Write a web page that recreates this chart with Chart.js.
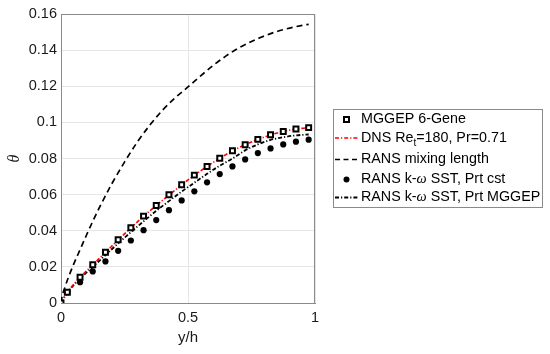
<!DOCTYPE html>
<html>
<head>
<meta charset="utf-8">
<script src="https://cdn.jsdelivr.net/npm/chart.js@4/dist/chart.umd.min.js"></script>
<style>
  html, body { margin: 0; padding: 0; background: #fff; }
  #wrap { width: 550px; height: 354px; position: relative; }
</style>
</head>
<body>
<div id="wrap"><canvas id="c" width="550" height="354"></canvas></div>
<script>
// ---- data ----
const xMarks = [0, 0.025, 0.075, 0.125, 0.175, 0.225, 0.275, 0.325, 0.375, 0.425, 0.475,
                0.525, 0.575, 0.625, 0.675, 0.725, 0.775, 0.825, 0.875, 0.925, 0.975];
const mggepGene = [0, 0.0060, 0.0143, 0.0212, 0.0281, 0.0350, 0.0417, 0.0481, 0.0540, 0.0599, 0.0655,
                   0.0708, 0.0756, 0.0801, 0.0843, 0.0876, 0.0906, 0.0932, 0.0950, 0.0963, 0.0971];
const xDns = [0, 0.025, 0.075, 0.125, 0.175, 0.225, 0.275, 0.325, 0.375, 0.425, 0.475,
              0.525, 0.575, 0.625, 0.675, 0.725, 0.775, 0.825, 0.875, 0.925, 0.975, 0.985];
const dns = [0, 0.0059, 0.0142, 0.0211, 0.0280, 0.0349, 0.0416, 0.0480, 0.0540, 0.0598, 0.0654,
             0.0707, 0.0756, 0.0801, 0.0842, 0.0876, 0.0905, 0.0930, 0.0950, 0.0963, 0.0971, 0.0973];
const xMix = [0, 0.005, 0.015, 0.03, 0.05, 0.075, 0.1, 0.125, 0.15, 0.2, 0.25, 0.3, 0.35, 0.4,
              0.45, 0.5, 0.55, 0.6, 0.65, 0.7, 0.75, 0.8, 0.85, 0.9, 0.95, 0.975];
const mixingLength = [0, 0.0040, 0.0085, 0.0145, 0.0215, 0.0295, 0.0375, 0.0452, 0.0525, 0.0660, 0.0780,
                      0.0890, 0.0985, 0.1068, 0.1137, 0.1196, 0.1258, 0.1316, 0.1368, 0.1412, 0.1448,
                      0.1478, 0.1503, 0.1522, 0.1537, 0.1543];
const komegaCst = [0, 0.0060, 0.0115, 0.0175, 0.0230, 0.0289, 0.0346, 0.0403, 0.0459, 0.0514, 0.0568,
                   0.0618, 0.0668, 0.0714, 0.0756, 0.0795, 0.0830, 0.0856, 0.0878, 0.0893, 0.0904];
const komegaMggep = [0, 0.0058, 0.0135, 0.0200, 0.0265, 0.0330, 0.0392, 0.0452, 0.0510, 0.0564, 0.0617,
                     0.0666, 0.0715, 0.0760, 0.0800, 0.0845, 0.0878, 0.0903, 0.0918, 0.0928, 0.0933];
const xTicks = [0, 0.5, 1];
const yTicks = [0, 0.02, 0.04, 0.06, 0.08, 0.1, 0.12, 0.14, 0.16];
const seriesLabels = ['MGGEP 6-Gene', 'DNS Re_t=180, Pr=0.71', 'RANS mixing length',
                      'RANS k-ω SST, Prt cst', 'RANS k-ω SST, Prt MGGEP'];
const xTitle = 'y/h';
const yTitle = 'θ';

const pts = (xs, ys) => xs.map((x, i) => ({x: x, y: ys[i]}));
const DASHDOT = [4, 2, 1.2, 2];
const AXIS = '#8a8a8a';

const boxPlugin = {
  id: 'box',
  afterDatasetsDraw(chart) {
    const {ctx, chartArea: a} = chart;
    ctx.save();
    ctx.strokeStyle = AXIS; ctx.lineWidth = 1;
    ctx.beginPath();
    ctx.moveTo(a.left, a.top + 0.5); ctx.lineTo(a.right, a.top + 0.5);
    ctx.moveTo(a.right - 0.5, a.top); ctx.lineTo(a.right - 0.5, a.bottom);
    ctx.stroke();
    ctx.restore();
  }
};

function drawSegments(ctx, x, y, segs) {
  let cx = x;
  segs.forEach(s => {
    ctx.font = s.font;
    ctx.fillText(s.t, cx, y + (s.dy || 0));
    cx += ctx.measureText(s.t).width;
  });
}

const legendPlugin = {
  id: 'customLegend',
  afterDraw(chart) {
    const ctx = chart.ctx;
    const L = 333.5, T = 109.5, R = 542.5, B = 207.5;
    ctx.save();
    ctx.fillStyle = '#fff';
    ctx.fillRect(L, T, R - L, B - T);
    ctx.strokeStyle = AXIS; ctx.lineWidth = 1;
    ctx.strokeRect(L, T, R - L, B - T);
    const rows = [119.5, 138, 159.5, 179.5, 197.5];
    const x0 = 335, x1 = 358, xm = 346.5, tx = 361;
    const F = '14.3px "Liberation Sans", Arial, sans-serif';
    const FI = 'italic 14.3px "Liberation Serif", "DejaVu Serif", serif';
    const FS = '10px "Liberation Sans", Arial, sans-serif';
    ctx.fillStyle = '#000';
    ctx.textBaseline = 'middle';
    ctx.textAlign = 'left';
    // row 1: square marker
    ctx.lineWidth = 2; ctx.strokeStyle = '#000'; ctx.fillStyle = '#fff';
    ctx.fillRect(xm - 2.5, rows[0] - 2.5, 5, 5);
    ctx.strokeRect(xm - 2.5, rows[0] - 2.5, 5, 5);
    ctx.fillStyle = '#000';
    drawSegments(ctx, tx, rows[0], [{t: 'MGGEP 6-Gene', font: F}]);
    // row 2: red dash-dot
    ctx.lineWidth = 1.6; ctx.strokeStyle = '#ff0000'; ctx.setLineDash(DASHDOT);
    ctx.beginPath(); ctx.moveTo(x0, rows[1]); ctx.lineTo(x1, rows[1]); ctx.stroke();
    drawSegments(ctx, tx, rows[1], [
      {t: 'DNS Re', font: F}, {t: 't', font: FS, dy: 5}, {t: '=180, Pr=0.71', font: F}]);
    // row 3: dashed
    ctx.strokeStyle = '#000'; ctx.setLineDash([5, 3.5]); ctx.lineWidth = 1.6;
    ctx.beginPath(); ctx.moveTo(x0, rows[2]); ctx.lineTo(x1, rows[2]); ctx.stroke();
    ctx.setLineDash([]);
    drawSegments(ctx, tx, rows[2], [{t: 'RANS mixing length', font: F}]);
    // row 4: dot
    ctx.beginPath(); ctx.arc(xm, rows[3], 3, 0, Math.PI * 2); ctx.fill();
    drawSegments(ctx, tx, rows[3], [
      {t: 'RANS k-', font: F}, {t: 'ω', font: FI}, {t: ' SST, Prt cst', font: F}]);
    // row 5: black dash-dot
    ctx.setLineDash(DASHDOT); ctx.lineWidth = 1.8;
    ctx.beginPath(); ctx.moveTo(x0, rows[4]); ctx.lineTo(x1, rows[4]); ctx.stroke();
    ctx.setLineDash([]);
    drawSegments(ctx, tx, rows[4], [
      {t: 'RANS k-', font: F}, {t: 'ω', font: FI}, {t: ' SST, Prt MGGEP', font: F}]);
    ctx.restore();
  }
};

const tickFont = {family: '"Liberation Sans", Arial, sans-serif', size: 14.5};

new Chart(document.getElementById('c'), {
  type: 'scatter',
  data: {
    datasets: [
      {label: seriesLabels[0], data: pts(xMarks, mggepGene), showLine: false,
       pointStyle: 'rect', pointRadius: 3.5, pointBorderWidth: 2,
       pointBorderColor: '#000', pointBackgroundColor: '#fff', order: 0},
      {label: seriesLabels[1], data: pts(xDns, dns), showLine: true, pointRadius: 0,
       borderColor: '#ff0000', borderWidth: 1.6, borderDash: DASHDOT,
       cubicInterpolationMode: 'monotone', order: 1},
      {label: seriesLabels[2], data: pts(xMix, mixingLength), showLine: true, pointRadius: 0,
       borderColor: '#000', borderWidth: 1.7, borderDash: [6, 4],
       cubicInterpolationMode: 'monotone', order: 4},
      {label: seriesLabels[3], data: pts(xMarks, komegaCst), showLine: false,
       pointStyle: 'circle', pointRadius: 3.1, pointBorderWidth: 0,
       pointBackgroundColor: '#000', pointBorderColor: '#000', order: 2},
      {label: seriesLabels[4], data: pts(xMarks, komegaMggep), showLine: true, pointRadius: 0,
       borderColor: '#000', borderWidth: 1.8, borderDash: DASHDOT,
       cubicInterpolationMode: 'monotone', order: 3}
    ]
  },
  options: {
    responsive: false,
    animation: false,
    layout: {padding: {left: 0, top: 14, right: 235, bottom: 0}},
    plugins: {legend: {display: false}, tooltip: {enabled: false}},
    elements: {point: {hoverRadius: 0}},
    scales: {
      x: {
        type: 'linear', min: 0, max: 1,
        afterBuildTicks: s => { s.ticks = xTicks.map(v => ({value: v})); },
        afterFit: s => { s.height = 51; },
        grid: {color: '#e6e6e6', drawTicks: false},
        border: {display: true, color: AXIS, width: 1},
        ticks: {padding: 6, color: '#1a1a1a', font: tickFont,
                callback: v => String(parseFloat(Number(v).toFixed(2)))},
        title: {display: true, text: xTitle, color: '#1a1a1a',
                font: {family: '"Liberation Sans", Arial, sans-serif', size: 15},
                padding: {top: 0, bottom: 7}}
      },
      y: {
        type: 'linear', min: 0, max: 0.16,
        afterBuildTicks: s => { s.ticks = yTicks.map(v => ({value: v})); },
        afterFit: s => { s.width = 61; },
        grid: {color: '#e6e6e6', drawTicks: false},
        border: {display: true, color: AXIS, width: 1},
        ticks: {padding: 4, color: '#1a1a1a', font: tickFont,
                callback: v => String(parseFloat(Number(v).toFixed(2)))},
        title: {display: true, text: yTitle, color: '#1a1a1a',
                font: {family: '"Liberation Serif", "DejaVu Serif", serif', size: 16, style: 'italic'},
                padding: {top: 5, bottom: 0}}
      }
    }
  },
  plugins: [boxPlugin, legendPlugin]
});
</script>
</body>
</html>
